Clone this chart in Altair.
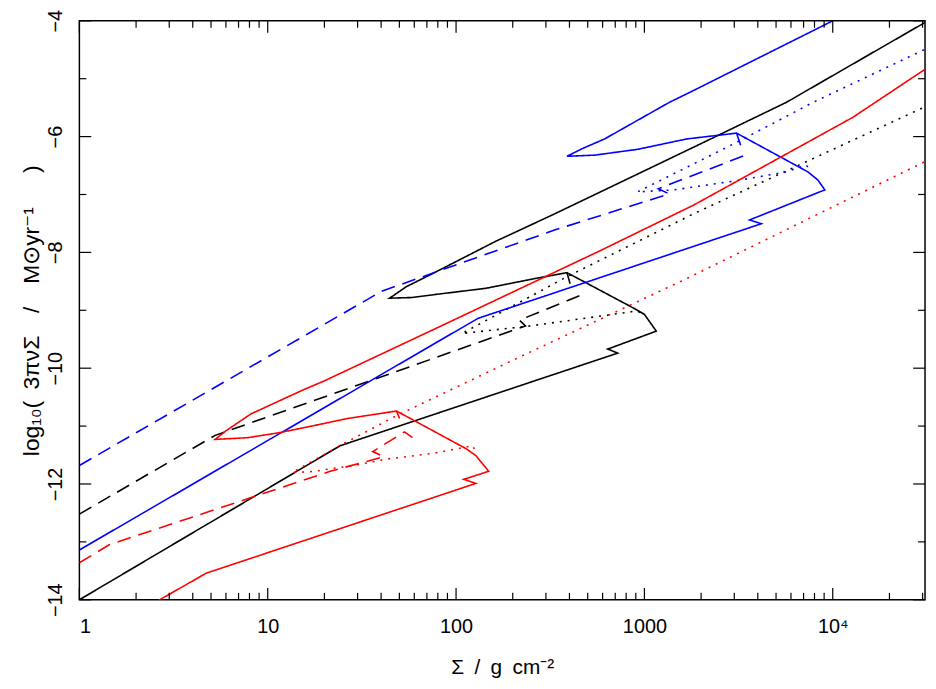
import altair as alt
import pandas as pd

# ---------------- data (Sigma in g cm^-2, log10 Mdot in Msun/yr) ----------------
BLACK_SOLID_SIGMA = [1, 24.2, 721, 639, 1156, 1000, 885, 388, 264, 144, 78.5, 58, 44.4, 54.6, 75.7, 162, 336, 1833, 5660, 30830]
BLACK_SOLID_LOGM = [-14.0, -11.34, -9.74, -9.67, -9.36, -9.07, -8.97, -8.35, -8.45, -8.62, -8.725, -8.78, -8.79, -8.59, -8.36, -7.81, -7.33, -6.18, -5.41, -4.03]

BLACK_DASHED_SIGMA = [1, 5.26, 233.6, 217, 466]
BLACK_DASHED_LOGM = [-12.52, -11.16, -9.27, -9.17, -8.73]

BLACK_DOTTED_SIGMA = [29770, 1833, 388, 107.6, 248, 919, 976]
BLACK_DOTTED_LOGM = [-5.51, -7.33, -8.42, -9.40, -9.27, -9.01, -9.07]

BLACK_SPUR_SIGMA = [388, 403]
BLACK_SPUR_LOGM = [-8.35, -8.54]

BLUE_SOLID_SIGMA = [1, 130.6, 4178, 3614, 9075, 8337, 7387, 3086, 1683, 919, 545, 388, 466, 615, 1354, 1833, 10000]
BLUE_SOLID_LOGM = [-13.14, -9.14, -7.505, -7.44, -6.92, -6.75, -6.61, -5.94, -6.04, -6.22, -6.32, -6.34, -6.21, -6.04, -5.41, -5.20, -4.0]

BLUE_DASHED_SIGMA = [1, 40.3, 336, 1354, 1185, 3443]
BLUE_DASHED_LOGM = [-11.68, -8.67, -7.61, -6.99, -6.90, -6.32]

BLUE_DOTTED_SIGMA = [30500, 7852, 3086, 919, 1438, 3243, 5660, 7210, 7660]
BLUE_DOTTED_LOGM = [-4.50, -5.41, -6.10, -6.955, -6.92, -6.75, -6.61, -6.49, -6.58]

BLUE_SPUR_SIGMA = [3086, 3243]
BLUE_SPUR_LOGM = [-5.94, -6.15]

RED_SOLID_SIGMA = [2.54, 4.72, 127.4, 110, 149, 127.4, 113, 48.3, 26.4, 17.7, 11.7, 7.85, 5.26, 6.01, 8.14, 15.3, 19.95, 78.5, 566, 1833, 12740, 30830]
RED_SOLID_LOGM = [-14.04, -13.54, -11.99, -11.92, -11.78, -11.51, -11.39, -10.74, -10.87, -10.99, -11.11, -11.20, -11.23, -11.08, -10.79, -10.38, -10.22, -9.31, -7.99, -7.18, -5.67, -4.84]

RED_DASHED_SIGMA = [1, 1.44, 21.5, 41.3, 36.1, 53.2, 58.7]
RED_DASHED_LOGM = [-13.36, -13.05, -11.78, -11.53, -11.44, -11.10, -11.20]

RED_DOTTED_SIGMA = [30500, 1683, 207, 48.3, 25.4, 13.5, 16.8, 28.7, 42.8, 75.7, 122.8, 127.4]
RED_DOTTED_LOGM = [-6.44, -8.45, -9.84, -10.82, -11.30, -11.80, -11.79, -11.68, -11.57, -11.47, -11.34, -11.46]

RED_SPUR_SIGMA = [48.3, 50.1]
RED_SPUR_LOGM = [-10.74, -10.87]

# axis tick values
X_MAJOR = [1, 10, 100, 1000, 10000]
X_MINOR = [2, 3, 4, 5, 6, 7, 8, 9, 20, 30, 40, 50, 60, 70, 80, 90,
           200, 300, 400, 500, 600, 700, 800, 900,
           2000, 3000, 4000, 5000, 6000, 7000, 8000, 9000, 20000, 30000]
Y_MAJOR = [-14, -12, -10, -8, -6, -4]
Y_MINOR = [-13, -11, -9, -7, -5]

curves = [
    ("black_solid", "black", "solid", BLACK_SOLID_SIGMA, BLACK_SOLID_LOGM),
    ("black_dashed", "black", "dashed", BLACK_DASHED_SIGMA, BLACK_DASHED_LOGM),
    ("black_dotted", "black", "dotted", BLACK_DOTTED_SIGMA, BLACK_DOTTED_LOGM),
    ("black_spur", "black", "solid", BLACK_SPUR_SIGMA, BLACK_SPUR_LOGM),
    ("blue_solid", "blue", "solid", BLUE_SOLID_SIGMA, BLUE_SOLID_LOGM),
    ("blue_dashed", "blue", "dashed", BLUE_DASHED_SIGMA, BLUE_DASHED_LOGM),
    ("blue_dotted", "blue", "dotted", BLUE_DOTTED_SIGMA, BLUE_DOTTED_LOGM),
    ("blue_spur", "blue", "solid", BLUE_SPUR_SIGMA, BLUE_SPUR_LOGM),
    ("red_solid", "red", "solid", RED_SOLID_SIGMA, RED_SOLID_LOGM),
    ("red_dashed", "red", "dashed", RED_DASHED_SIGMA, RED_DASHED_LOGM),
    ("red_dotted", "red", "dotted", RED_DOTTED_SIGMA, RED_DOTTED_LOGM),
    ("red_spur", "red", "solid", RED_SPUR_SIGMA, RED_SPUR_LOGM),
]

rows = []
for name, color, style, s, m in curves:
    for i, (a, b) in enumerate(zip(s, m)):
        rows.append({"curve": name, "color": color, "style": style,
                     "sigma": a, "logm": b, "i": i})
df = pd.DataFrame(rows)

W, H = 853, 584
FONT = "Liberation Sans"
SP = "\u2002"
xscale = alt.Scale(type="log", domain=[1, 30900], nice=False)
yscale = alt.Scale(domain=[-14, -4], nice=False, zero=False)

XAXIS = alt.Axis(values=X_MAJOR, title=f"Σ{SP}/{SP}g{SP}cm⁻²", titleFontSize=21,
                 labelExpr="datum.value >= 10000 ? '10⁴' : format(datum.value, 'd')",
                 labelPadding=17, titlePadding=20)
YAXIS = alt.Axis(values=Y_MAJOR,
                 title=f"log₁₀({SP}3πνΣ{SP}{SP}/{SP}{SP}M⊙yr⁻¹{SP}{SP}{SP})",
                 titleFontSize=23,
                 labelAngle=-90, labelAlign="center", labelBaseline="bottom",
                 labelPadding=14, titlePadding=2)

lines = alt.Chart(df).mark_line(clip=True, strokeWidth=1.6).encode(
    x=alt.X("sigma:Q", scale=xscale, axis=XAXIS),
    y=alt.Y("logm:Q", scale=yscale, axis=YAXIS),
    color=alt.Color("color:N", scale=alt.Scale(domain=["black", "red", "blue"],
                                               range=["#000000", "#ff0000", "#0000ff"]), legend=None),
    strokeDash=alt.StrokeDash("style:N", scale=alt.Scale(domain=["solid", "dashed", "dotted"],
                                                          range=[[1, 0], [14, 8], [2, 6]]), legend=None),
    detail="curve:N",
    order=alt.Order("i:Q"),
)

def xticks(vals, y0, y1):
    return alt.Chart(pd.DataFrame({"sigma": vals})).mark_rule(color="black", strokeWidth=1.2).encode(
        x=alt.X("sigma:Q", scale=xscale, axis=XAXIS), y=alt.value(y0), y2=alt.value(y1))

def yticks(vals, x0, x1):
    return alt.Chart(pd.DataFrame({"logm": vals})).mark_rule(color="black", strokeWidth=1.2).encode(
        y=alt.Y("logm:Q", scale=yscale, axis=YAXIS), x=alt.value(x0), x2=alt.value(x1))

layers = [
    lines,
    xticks(X_MAJOR, H, H - 12), xticks(X_MINOR, H, H - 7),
    xticks(X_MAJOR, 0, 12), xticks(X_MINOR, 0, 7),
    yticks(Y_MAJOR, 0, 12), yticks(Y_MINOR, 0, 7),
    yticks(Y_MAJOR, W, W - 12), yticks(Y_MINOR, W, W - 7),
]

chart = alt.layer(*layers).properties(
    width=W, height=H,
    autosize=alt.AutoSizeParams(type="none"),
    padding={"left": 72, "top": 10, "right": 3, "bottom": 78},
).configure_view(
    stroke="black", strokeWidth=1.5
).configure_axis(
    domain=False, ticks=False, tickSize=0, grid=False,
    labelFont=FONT, titleFont=FONT, labelFontSize=20, titleFontSize=20,
    labelColor="black", titleColor="black", titleFontWeight="normal",
)

chart.save("out.html", embed_options={"renderer": "svg", "actions": False})
